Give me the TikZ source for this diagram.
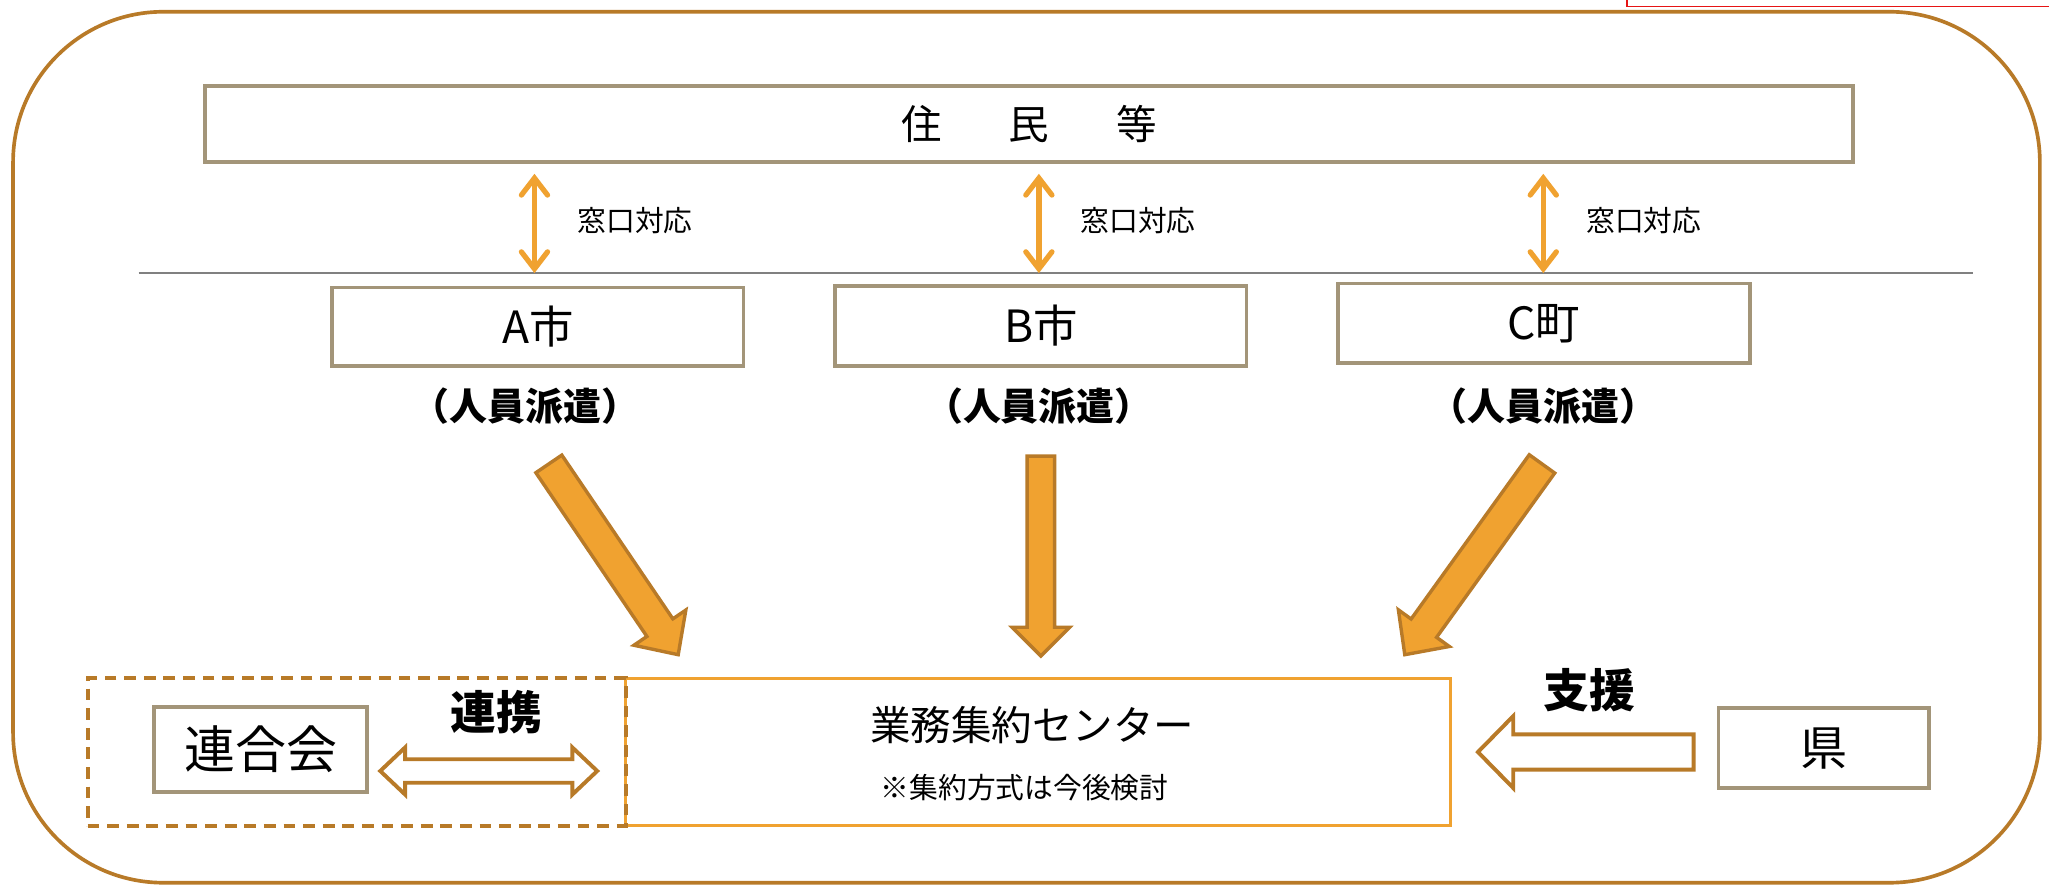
\documentclass[tikz,border=0pt]{standalone}
\usepackage{fontspec}
\setmainfont{Noto Sans CJK JP}
\usetikzlibrary{arrows.meta,calc}
\definecolor{framec}{RGB}{184,122,40}
\definecolor{tanc}{RGB}{163,149,121}
\definecolor{orngc}{RGB}{240,162,48}
\definecolor{grayc}{RGB}{128,128,128}
\definecolor{redc}{RGB}{230,20,20}
\newcommand\fs[1]{\fontsize{#1}{#1}\selectfont}
% fat arrow: style, tail, tip, shaft half width, head half width, head length
\newcommand\fatarrow[6]{%
  \coordinate (fa-h) at ($(#3)!#6!(#2)$);
  \draw[#1] ($(#2)!#4!90:(#3)$) -- ($(fa-h)!#4!90:(#3)$) -- ($(fa-h)!#5!90:(#3)$)
    -- (#3) -- ($(fa-h)!#5!-90:(#3)$) -- ($(fa-h)!#4!-90:(#3)$) -- ($(#2)!#4!-90:(#3)$) -- cycle;
}
\begin{document}
\begin{tikzpicture}[x=1pt,y=-1pt,
  tanbox/.style={draw=tanc, line width=2.8pt, fill=white, inner sep=0pt},
  lbl/.style={inner sep=0pt, font=\fs{22}},
  cityname/.style={inner sep=0pt, font=\fs{34}},
  dispatch/.style={inner sep=0pt, font=\fs{29}\bfseries},
  winarr/.style={orngc, line width=4pt, line cap=round,
    {Straight Barb[length=13pt,width=20pt,line cap=round]}-{Straight Barb[length=13pt,width=20pt,line cap=round]}},
  fatarr/.style={fill=orngc, draw=framec, line width=2.6pt, line join=miter},
  hollowarr/.style={fill=white, draw=framec, line width=3pt, line join=miter},
]
\useasboundingbox (0,0) rectangle (1568,677);
\fill[white] (0,0) rectangle (1568,677);
% outer frame
\draw[framec, line width=2.8pt, rounded corners=115pt] (10,9) rectangle (1561,675.5);
% red fragment at top right
\draw[redc, line width=1.4pt] (1245,-2) -- (1245,5) -- (1572,5);

% residents
\node[tanbox, minimum width=1261pt, minimum height=58pt] (res) at (787.5,95)
  {\fs{31}住\hspace{1.65em}民\hspace{1.65em}等};

% gray separator
\coordinate (gl-l) at (106,209);
\coordinate (gl-r) at (1510,209);
\draw[grayc, line width=1.4pt] (gl-l) -- (gl-r);

% window arrows
\coordinate (wa1) at (409,133); \coordinate (wa2) at (409,209);
\coordinate (wb1) at (795,133); \coordinate (wb2) at (795,209);
\coordinate (wc1) at (1181,133); \coordinate (wc2) at (1181,209);
\draw[winarr] (wa1) -- (wa2);
\draw[winarr] (wb1) -- (wb2);
\draw[winarr] (wc1) -- (wc2);
\node[lbl] (wla) at (486,169) {窓口対応};
\node[lbl] (wlb) at (871,169) {窓口対応};
\node[lbl] (wlc) at (1258,169) {窓口対応};

% municipalities
\node[tanbox, minimum width=315pt, minimum height=60pt] (A) at (411.5,250) {};
\node[cityname] (At) at (411.5,250) {A市};
\node[tanbox, minimum width=315pt, minimum height=61pt] (B) at (796.5,249.5) {};
\node[cityname] (Bt) at (796.5,249.5) {B市};
\node[tanbox, minimum width=315pt, minimum height=61pt] (C) at (1181.5,247.5) {};
\node[cityname] (Ct) at (1181.5,247.5) {C町};
\node[dispatch] (Ad) at (402,311) {（人員派遣）};
\node[dispatch] (Bd) at (795,311) {（人員派遣）};
\node[dispatch] (Cd) at (1181,311) {（人員派遣）};

% thick arrows
\coordinate (ta) at (420,355);  \coordinate (pa) at (519,501);
\coordinate (tb) at (796.5,349); \coordinate (pb) at (796.5,502);
\coordinate (tc) at (1180,355); \coordinate (pc) at (1075,501);
\fatarrow{fatarr}{ta}{pa}{12pt}{24pt}{25pt}
\fatarrow{fatarr}{tb}{pb}{10.5pt}{22pt}{22pt}
\fatarrow{fatarr}{tc}{pc}{12pt}{24pt}{25pt}

% center
\node[draw=orngc, line width=2.3pt, fill=white, minimum width=631pt, minimum height=113pt, inner sep=0pt] (ctr) at (794.5,575.5) {};
\node[inner sep=0pt, font=\fs{31}] (ctrt) at (790,555) {業務集約センター};
\node[inner sep=0pt, font=\fs{22}] (ctrs) at (784,603) {※集約方式は今後検討};

% group (dashed)
\node[draw=framec, line width=3pt, dash pattern=on 9pt off 6pt, minimum width=412pt, minimum height=113pt, inner sep=0pt] (grp) at (273,575.5) {};
\node[tanbox, minimum width=163pt, minimum height=65pt] (ren) at (199.5,573.5) {};
\node[inner sep=0pt, font=\fs{39}] (rent) at (199.5,573.5) {連合会};
\node[inner sep=0pt, font=\fs{35}\bfseries] (renkei) at (380,545) {連携};

% double hollow arrow
\coordinate (dl) at (291,590);
\coordinate (dr) at (457,590);
\draw[hollowarr] (dl) -- ++(19,-18) -- ++(0,9) -- ($(dr)+(-19,-9)$) -- ++(0,-9) -- (dr)
  -- ++(-19,18) -- ++(0,-9) -- ($(dl)+(19,9)$) -- ++(0,9) -- cycle;

% prefecture
\node[tanbox, minimum width=161pt, minimum height=61pt] (ken) at (1395.5,572.5) {};
\node[inner sep=0pt, font=\fs{36}] (kent) at (1395.5,572.5) {県};
\node[inner sep=0pt, font=\fs{35}\bfseries] (shien) at (1216,528) {支援};
\coordinate (kt) at (1296,575.5);
\coordinate (kp) at (1131,575.5);
\fatarrow{hollowarr}{kt}{kp}{13.5pt}{27.5pt}{27pt}
\end{tikzpicture}
\end{document}
